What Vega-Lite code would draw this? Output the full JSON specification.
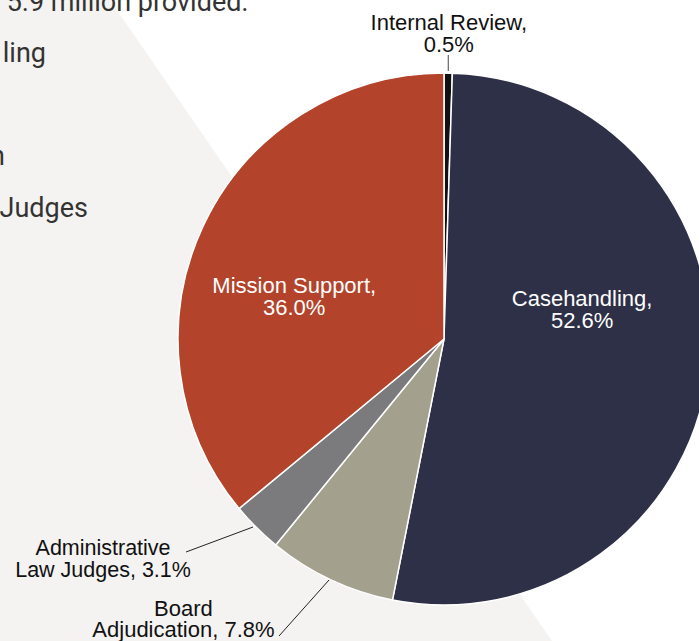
{
  "$schema": "https://vega.github.io/schema/vega-lite/v6.json",
  "width": 699,
  "height": 641,
  "autosize": "none",
  "padding": 0,
  "background": "#ffffff",
  "config": {"view": {"stroke": null}, "text": {"font": "Liberation Sans"}},
  "datasets": {
    "budget": [
      {"category": "Internal Review", "share": 0.5, "rank": 1, "label": "Internal Review,\n0.5%"},
      {"category": "Casehandling", "share": 52.6, "rank": 2, "label": "Casehandling,\n52.6%"},
      {"category": "Board Adjudication", "share": 7.8, "rank": 3, "label": "Board\nAdjudication, 7.8%"},
      {"category": "Administrative Law Judges", "share": 3.1, "rank": 4, "label": "Administrative\nLaw Judges, 3.1%"},
      {"category": "Mission Support", "share": 36.0, "rank": 5, "label": "Mission Support,\n36.0%"}
    ]
  },
  "data": {"name": "budget"},
  "layer": [
    {
      "data": {"values": [{"part": "page band"}]},
      "mark": {"type": "arc", "x": 331, "y": 320.5, "theta": 2.5378, "theta2": 5.6794, "outerRadius": 2000, "fill": "#f4f3f1", "clip": true},
      "encoding": {}
    },
    {
      "data": {"values": [{"t": "5.9 million provided:"}]},
      "mark": {"type": "text", "x": 248, "y": 11, "align": "right", "baseline": "alphabetic", "font": "Roboto", "fontSize": 27, "fill": "#333333"},
      "encoding": {"text": {"field": "t"}}
    },
    {
      "data": {"values": [{"t": "ling"}]},
      "mark": {"type": "text", "x": 46, "y": 62, "align": "right", "baseline": "alphabetic", "font": "Roboto", "fontSize": 27, "fill": "#333333"},
      "encoding": {"text": {"field": "t"}}
    },
    {
      "data": {"values": [{"t": "n"}]},
      "mark": {"type": "text", "x": 5, "y": 165, "align": "right", "baseline": "alphabetic", "font": "Roboto", "fontSize": 27, "fill": "#333333"},
      "encoding": {"text": {"field": "t"}}
    },
    {
      "data": {"values": [{"t": "Judges"}]},
      "mark": {"type": "text", "x": 88, "y": 217, "align": "right", "baseline": "alphabetic", "font": "Roboto", "fontSize": 27, "fill": "#333333"},
      "encoding": {"text": {"field": "t"}}
    },
    {
      "mark": {"type": "arc", "outerRadius": 266, "x": 444, "y": 339, "stroke": "#ffffff", "strokeWidth": 1.5},
      "encoding": {
        "theta": {"field": "share", "type": "quantitative", "stack": true},
        "order": {"field": "rank", "type": "quantitative"},
        "color": {
          "field": "category", "type": "nominal", "legend": null,
          "scale": {
            "domain": ["Internal Review", "Casehandling", "Board Adjudication", "Administrative Law Judges", "Mission Support"],
            "range": ["#111111", "#2e3048", "#a3a08e", "#7b7b7d", "#b3432a"]
          }
        }
      }
    },
    {
      "mark": {"type": "text", "x": 444, "y": 339, "radius": 140, "dx": -1, "dy": -49, "align": "center", "baseline": "alphabetic", "fontSize": 22, "lineHeight": 22, "lineBreak": "\n", "fill": "#ffffff"},
      "encoding": {
        "theta": {"field": "share", "type": "quantitative", "stack": true},
        "order": {"field": "rank", "type": "quantitative"},
        "text": {"condition": {"test": "datum.category === 'Casehandling'", "field": "label"}, "value": ""}
      }
    },
    {
      "mark": {"type": "text", "x": 444, "y": 339, "radius": 160, "dx": -5, "dy": 22, "align": "center", "baseline": "alphabetic", "fontSize": 22, "lineHeight": 22, "lineBreak": "\n", "fill": "#ffffff"},
      "encoding": {
        "theta": {"field": "share", "type": "quantitative", "stack": true},
        "order": {"field": "rank", "type": "quantitative"},
        "text": {"condition": {"test": "datum.category === 'Mission Support'", "field": "label"}, "value": ""}
      }
    },
    {
      "mark": {"type": "text", "x": 444, "y": 339, "radius": 309, "dx": 0, "dy": 0, "align": "center", "baseline": "alphabetic", "fontSize": 22, "lineHeight": 22, "lineBreak": "\n", "fill": "#111111"},
      "encoding": {
        "theta": {"field": "share", "type": "quantitative", "stack": true},
        "order": {"field": "rank", "type": "quantitative"},
        "text": {"condition": {"test": "datum.category === 'Internal Review'", "field": "label"}, "value": ""}
      }
    },
    {
      "mark": {"type": "text", "x": 444, "y": 339, "radius": 300, "dx": -129.5, "dy": 3.2, "align": "center", "baseline": "alphabetic", "fontSize": 21.5, "lineHeight": 22, "lineBreak": "\n", "fill": "#111111"},
      "encoding": {
        "theta": {"field": "share", "type": "quantitative", "stack": true},
        "order": {"field": "rank", "type": "quantitative"},
        "text": {"condition": {"test": "datum.category === 'Administrative Law Judges'", "field": "label"}, "value": ""}
      }
    },
    {
      "mark": {"type": "text", "x": 444, "y": 339, "radius": 300, "dx": -132.8, "dy": 5.6, "align": "center", "baseline": "alphabetic", "fontSize": 22, "lineHeight": 21, "lineBreak": "\n", "fill": "#111111"},
      "encoding": {
        "theta": {"field": "share", "type": "quantitative", "stack": true},
        "order": {"field": "rank", "type": "quantitative"},
        "text": {"condition": {"test": "datum.category === 'Board Adjudication'", "field": "label"}, "value": ""}
      }
    },
    {
      "transform": [{"filter": "datum.category === 'Internal Review'"}],
      "mark": {"type": "rule", "stroke": "#666666", "strokeWidth": 1.2},
      "encoding": {"x": {"value": 448.3}, "y": {"value": 55}, "x2": {"value": 448.3}, "y2": {"value": 71}}
    },
    {
      "transform": [{"filter": "datum.category === 'Administrative Law Judges'"}],
      "mark": {"type": "rule", "stroke": "#222222", "strokeWidth": 1},
      "encoding": {"x": {"value": 186}, "y": {"value": 552}, "x2": {"value": 253}, "y2": {"value": 527}}
    },
    {
      "transform": [{"filter": "datum.category === 'Board Adjudication'"}],
      "mark": {"type": "rule", "stroke": "#222222", "strokeWidth": 1},
      "encoding": {"x": {"value": 279}, "y": {"value": 636}, "x2": {"value": 329}, "y2": {"value": 580}}
    }
  ]
}
